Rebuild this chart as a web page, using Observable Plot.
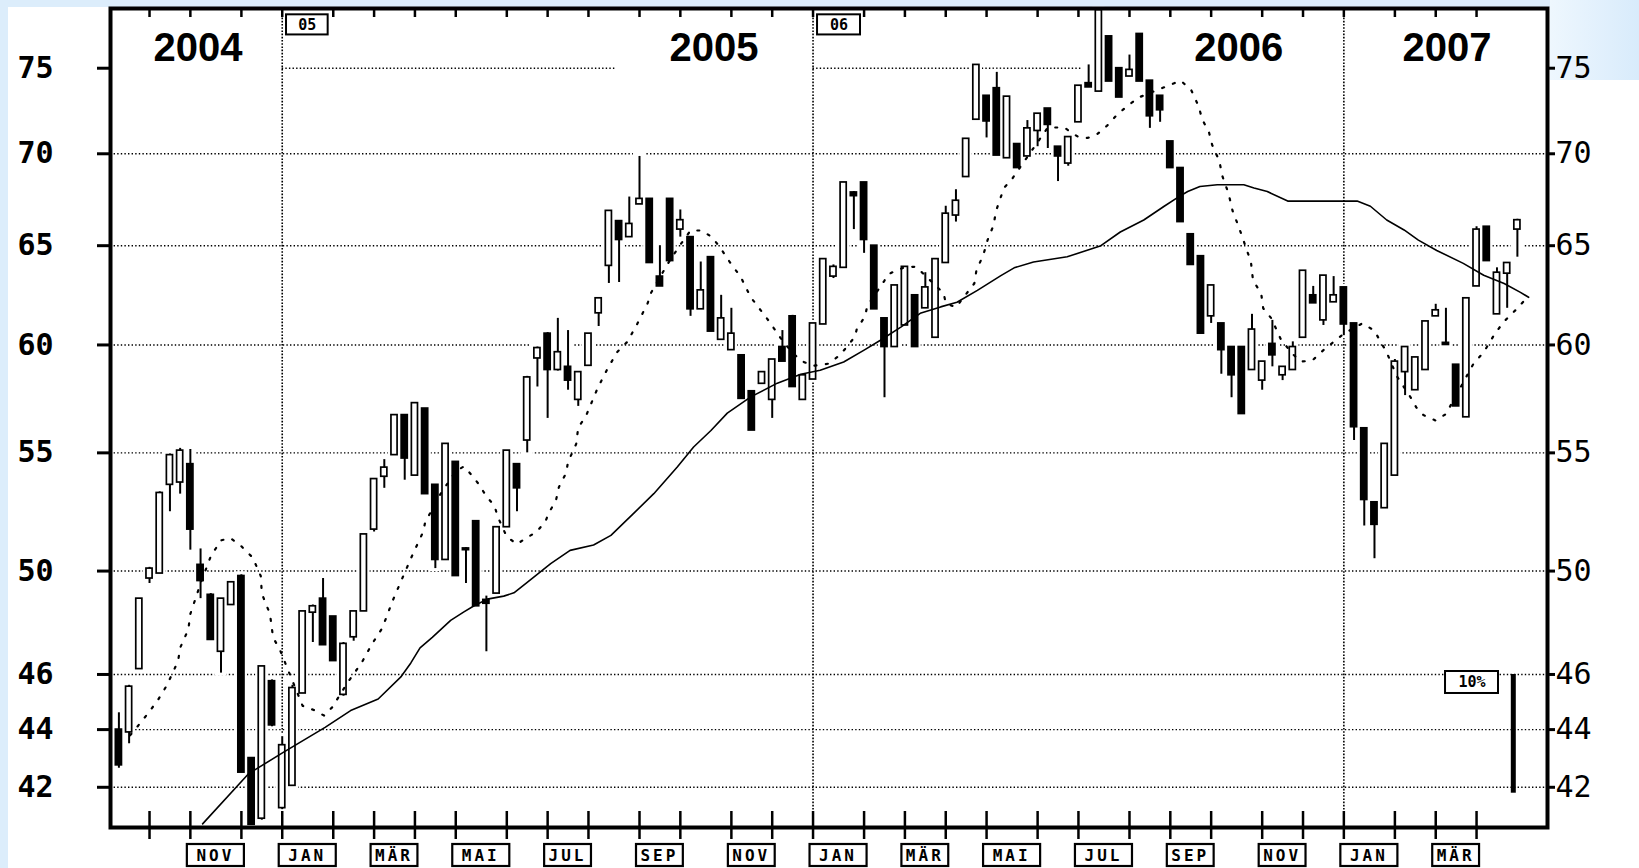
<!DOCTYPE html>
<html><head><meta charset="utf-8">
<script src="https://cdn.jsdelivr.net/npm/d3@7"></script>
<script src="https://cdn.jsdelivr.net/npm/@observablehq/plot@0.6"></script>
<style>
html,body{margin:0;padding:0;}
body{width:1639px;height:868px;overflow:hidden;background:#dcedfb;position:relative;}
#paper{position:absolute;left:8px;top:7px;width:1631px;height:861px;background:#fff;}
#corner{position:absolute;left:1550px;top:0;width:89px;height:80px;background:linear-gradient(90deg,#eef7fe,#d8ebfb);}
#chart{position:absolute;left:0;top:0;}
</style></head><body><div id="paper"></div><div id="corner"></div><div id="chart"></div>
<script>
// Weekly candles, week 0 = week of 2004-09-13 (Mondays)
const open = [44.0,43.9,46.2,49.7,49.9,53.6,53.7,54.5,50.25,49.05,46.85,48.65,49.8,43.0,40.95,45.75,41.3,42.05,45.3,48.35,
48.9,48.2,45.25,47.4,48.4,51.7,53.95,54.9,56.7,54.0,57.0,53.6,50.45,54.6,50.92,52.05,48.85,49.1,51.8,54.5,
55.55,59.35,60.55,58.8,58.95,57.4,59.0,61.55,63.95,66.3,65.45,67.2,67.5,63.4,67.5,65.85,65.45,61.75,64.4,60.25,
59.75,59.5,57.8,58.15,57.4,59.9,61.4,57.4,58.35,61.0,63.4,63.85,67.85,68.4,65.0,61.3,59.9,60.95,62.45,61.8,
60.35,64.1,66.6,68.7,71.95,73.35,73.8,69.75,70.55,69.85,71.3,72.6,70.4,69.45,71.8,74.1,73.6,76.95,75.0,74.5,
77.1,74.25,73.35,70.7,69.2,65.6,64.45,61.4,61.05,59.9,59.9,58.8,58.3,60.05,58.55,58.8,60.35,62.45,61.2,62.1,
62.85,61.05,56.1,52.85,52.6,54.0,58.7,57.85,58.8,61.4,60.1,59.05,56.6,62.9,66.0,61.5,63.55,65.85];
const high = [44.6,45.6,48.9,50.15,53.3,54.95,55.2,55.15,50.9,49.1,48.9,49.55,49.85,43.0,46.3,45.8,43.75,45.6,48.4,48.65,
49.7,48.2,47.2,48.4,51.5,53.85,54.7,56.7,56.7,57.25,57.0,53.6,55.4,54.6,50.95,52.05,49.0,51.8,55.1,54.5,
58.5,59.9,60.6,61.3,60.7,58.7,60.55,62.3,66.85,66.3,67.6,69.85,67.5,65.0,67.5,66.9,65.45,64.15,64.4,62.45,
61.8,59.5,57.8,58.7,59.3,60.7,61.45,58.55,61.05,64.3,64.0,68.4,67.9,68.4,65.0,61.3,62.95,63.9,62.45,63.6,
64.3,67.1,68.0,70.85,75.2,73.35,74.75,73.3,70.55,71.9,72.3,72.6,70.4,70.95,73.95,75.2,78.6,76.95,75.0,75.8,
77.1,74.25,73.35,70.7,69.2,65.6,64.45,62.95,61.05,59.9,59.9,61.5,59.2,61.2,58.95,60.15,63.7,62.9,63.45,63.4,
62.85,61.05,56.1,52.85,55.4,59.3,59.9,59.4,61.15,62.0,61.8,59.05,62.3,66.0,66.0,63.85,64.1,66.4];
const low = [42.65,43.5,46.2,49.5,49.9,52.45,53.2,50.85,48.9,47.3,46.05,48.65,42.5,40.75,40.9,44.1,41.25,42.05,45.3,47.2,
47.1,46.5,45.2,47.25,48.4,51.6,53.45,54.9,53.8,54.0,53.2,50.1,50.45,49.8,49.5,48.6,46.85,49.1,51.8,52.45,
55.0,58.0,56.55,58.75,57.85,57.1,59.0,60.9,63.05,63.1,65.45,67.2,64.1,62.9,64.2,65.45,61.4,61.75,60.65,60.25,
59.75,57.45,56.0,58.15,56.55,59.2,58.0,57.4,58.35,61.0,63.3,63.85,65.85,64.6,61.75,57.5,59.9,60.95,59.9,61.8,
60.35,64.1,66.25,68.7,71.95,70.9,69.9,69.75,69.2,69.85,70.4,70.3,68.45,69.3,71.8,73.85,73.6,74.2,73.25,74.5,
74.2,71.45,71.8,69.2,66.25,64.0,60.55,61.05,58.6,57.5,56.75,58.8,57.85,58.95,58.3,58.8,60.35,62.05,60.95,62.1,
60.45,55.55,51.85,50.5,52.6,54.0,57.6,57.85,58.8,61.4,60.0,57.1,56.6,62.9,64.2,61.5,61.8,64.4];
const close = [42.75,45.55,48.9,50.1,53.25,54.9,55.1,51.7,49.6,47.3,48.9,49.55,42.5,40.75,46.3,44.15,43.45,45.5,48.4,48.6,
47.1,46.5,47.15,48.4,51.5,53.85,54.35,56.7,54.75,57.25,53.2,50.45,55.4,49.8,50.85,48.6,48.7,51.8,55.1,53.45,
58.45,59.85,58.8,59.65,58.3,58.7,60.55,62.3,66.85,65.3,66.15,67.5,64.1,62.9,64.2,66.35,61.75,62.7,60.65,61.3,
60.55,57.45,56.0,58.7,59.3,59.2,58.0,58.55,61.05,64.3,63.9,68.4,67.65,65.3,61.75,59.9,62.95,63.9,59.9,62.85,
64.3,66.7,67.4,70.85,75.2,71.85,69.9,73.3,69.2,71.45,72.3,71.65,69.85,70.95,73.95,73.85,78.6,74.2,73.25,74.9,
74.2,72.15,72.5,69.2,66.25,64.0,60.55,62.95,59.75,58.55,56.75,60.75,59.2,59.5,58.95,59.9,63.7,62.05,63.45,62.45,
61.0,56.15,52.95,51.9,55.4,59.2,59.9,59.4,61.15,61.7,60.0,57.1,62.3,65.85,64.2,63.6,64.1,66.35];

// Long moving average (solid): week position and value
const maLongWeek = [8.2,12.7,16.1,20.2,22.7,25.4,27.6,28.6,29.5,30.7,32.5,33.8,34.8,36.1,37.7,38.7,40.0,42.3,44.2,46.5,
48.2,50.4,52.4,54.7,56.3,58.0,59.6,61.9,64.5,66.8,68.7,71.0,73.0,74.6,76.6,78.5,80.5,82.1,84.1,86.4,
87.7,89.6,92.9,96.2,98.1,100.4,102.4,103.7,104.7,105.9,107.6,110.2,111.2,112.5,114.5,121.3,122.6,124.2,125.9,127.3,
129.1,131.7,133.7,135.7,137.3,138.1];
const maLongValue = [40.78,42.46,43.2,44.08,44.68,45.1,45.9,46.43,47.0,47.4,48.05,48.38,48.62,48.88,49.0,49.13,49.55,50.3,50.84,51.06,
51.46,52.37,53.22,54.38,55.26,56.0,56.79,57.54,58.18,58.6,58.79,59.18,59.75,60.23,60.87,61.55,61.87,62.1,62.7,63.45,
63.85,64.15,64.42,65.0,65.72,66.36,67.1,67.57,67.9,68.18,68.27,68.27,68.1,67.9,67.38,67.38,67.1,66.36,65.83,65.29,
64.75,64.08,63.47,63.05,62.6,62.35];

// Short moving average (dotted)
const maShortWeek = [1.1,1.8,2.9,3.8,4.7,5.8,6.0,6.8,7.0,8.0,9.0,10.0,10.9,11.9,13.1,13.9,14.0,14.8,15.1,15.8,
16.8,18.0,19.1,20.1,20.9,22.4,23.8,24.8,25.8,26.8,27.75,28.7,29.8,30.0,31.5,33.0,33.8,34.6,35.3,36.0,
36.8,37.1,38.0,39.0,39.9,40.9,41.8,42.1,42.8,43.1,43.8,44.0,44.8,45.0,45.7,46.9,47.8,48.8,49.8,50.8,
51.8,52.1,53.7,54.8,56.0,57.1,58.1,58.9,59.9,60.9,61.9,63.1,63.7,64.8,66.0,67.0,68.0,69.5,70.6,71.3,
72.1,72.3,73.1,73.3,75.0,75.3,76.1,77.1,78.1,78.5,80.8,81.0,82.0,83.8,84.0,84.7,85.1,85.7,85.9,86.7,
87.5,91.0,92.6,94.0,94.9,95.8,96.8,97.8,98.9,99.9,104.0,105.0,105.8,106.1,106.8,107.1,107.8,108.1,108.7,109.1,
109.7,110.9,111.1,111.9,112.1,112.9,113.8,114.9,115.8,116.9,118.0,119.0,120.0,121.8,123.0,123.7,124.1,125.2,126.7,127.1,
127.8,129.0,130.0,132.7,133.7,134.8,135.7,136.8,137.7,138.1];
const maShortValue = [43.8,44.1,44.6,45.05,45.6,46.5,47.0,47.7,48.3,49.5,50.6,51.25,51.35,51.05,50.55,49.8,49.1,48.3,47.4,46.9,
45.95,44.85,44.7,44.5,44.8,45.7,46.45,47.15,47.75,48.8,49.7,50.6,51.6,52.0,53.2,54.2,54.4,54.0,53.6,53.1,
52.7,52.25,51.4,51.1,51.35,51.6,52.05,52.4,52.9,53.5,54.1,54.6,55.4,56.15,56.6,57.95,58.8,59.65,60.15,61.05,
62.05,62.55,64.0,64.9,65.8,65.8,65.45,64.9,64.1,63.4,62.35,61.55,61.15,60.35,59.6,59.2,59.0,59.1,59.5,59.9,
60.4,60.8,61.4,61.9,63.2,63.5,63.7,63.9,63.9,63.7,62.55,62.05,61.85,63.05,63.7,64.55,65.3,66.1,66.8,68.1,
68.6,71.5,71.5,70.95,70.9,71.1,71.6,72.25,72.8,73.25,74.25,73.75,72.7,72.0,71.2,70.5,69.6,68.75,67.8,66.85,
66.0,64.15,63.2,62.55,61.8,61.3,60.3,59.6,59.2,59.25,59.75,60.15,60.55,61.05,60.7,60.05,59.75,58.5,57.4,57.05,
56.7,56.45,56.75,59.1,59.65,60.55,61.15,61.7,62.2,62.37];

// Axis ticks and labels
const yTicks = [42, 44, 46, 50, 55, 60, 65, 70, 75];
const gridLevels = [42, 44, 46, 50, 55, 60, 65, 70];
const grid75Spans = [{from: 16, to: 48.7}, {from: 68, to: 94.9}];
const yearStartWeeks = [16, 68, 120];
const monthStartWeeks = [3,7,12,16,21,25,29,33,38,42,46,51,55,60,64,68,73,77,81,85,90,94,99,103,107,112,116,120,125,129,133];
const monthNames = ["NOV","JAN","MÄR","MAI","JUL","SEP","NOV","JAN","MÄR","MAI","JUL","SEP","NOV","JAN","MÄR"];
const monthFrom = [7,16,25,33,42,51,60,68,77,85,94,103,112,120,129];
const monthTo = [12,21,29,38,46,55,64,73,81,90,99,107,116,125,133];
const yearNames = ["2004","2005","2006","2007"];
const yearLabelWeek = [7.75, 58.3, 109.7, 130.1];
const yearTags = ["05","06"];
const yearTagFrom = [16.42, 68.44];
const yearTagTo = [20.5, 72.65];
const scaleBar = {week: 136.6, from: 41.8, to: 46, label: "10%", boxFrom: 129.96, boxTo: 135.15};

const W = 1639, H = 868, ML = 110, MR = 92, MT = 8, MB = 41;
const candles = open.map((o, i) => ({i, o, h: high[i], l: low[i], c: close[i], up: close[i] >= o}));
const longMA = maLongWeek.map((w, k) => ({w, v: maLongValue[k]}));
const shortMA = maShortWeek.map((w, k) => ({w, v: maShortValue[k]}));
const years = yearNames.map((t, k) => ({t, w: yearLabelWeek[k]}));
const tags = yearTags.map((t, k) => ({t, a: yearTagFrom[k], b: yearTagTo[k]}));
const mono = "DejaVu Sans Mono, monospace";
const dotted = {stroke: "#000", strokeWidth: 1.4, strokeDasharray: "1.4,2.2"};

const chart = Plot.plot({
  width: W, height: H,
  marginLeft: ML, marginRight: MR, marginTop: MT, marginBottom: MB,
  style: {background: "transparent", overflow: "visible"},
  x: {type: "linear", domain: [-0.823, 139.95]},
  y: {type: "log", domain: [40.66, 78.7]},
  marks: [
    Plot.frame({fill: "white", stroke: "none"}),
    Plot.ruleY(gridLevels, dotted),
    Plot.ruleY(grid75Spans, {y: () => 75, x1: "from", x2: "to", ...dotted}),
    Plot.ruleX(yearStartWeeks, {stroke: "#000", strokeWidth: 1.6, strokeDasharray: "1.6,1.6"}),
    // white halo around candles
    Plot.rect(candles, {x1: d => d.i - 0.6, x2: d => d.i + 0.6, y1: "l", y2: "h", fill: "white", insetTop: -3, insetBottom: -3}),
    Plot.ruleX(candles, {x: "i", y1: "l", y2: "h", stroke: "#000", strokeWidth: 2}),
    Plot.rect(candles.filter(d => d.up), {x1: d => d.i - 0.3, x2: d => d.i + 0.3, y1: "o", y2: "c", fill: "white", stroke: "#000", strokeWidth: 1.7}),
    Plot.rect(candles.filter(d => !d.up), {x1: d => d.i - 0.3, x2: d => d.i + 0.3, y1: "o", y2: "c", fill: "#000", stroke: "#000", strokeWidth: 1.7}),
    Plot.line(longMA, {x: "w", y: "v", stroke: "#000", strokeWidth: 1.6}),
    Plot.line(shortMA, {x: "w", y: "v", stroke: "#000", strokeWidth: 2.2, strokeDasharray: "2,9.5"}),
    // year labels
    Plot.text(years, {x: "w", text: "t", frameAnchor: "top", lineAnchor: "middle", dy: 39.5, fontSize: 40, fontWeight: "bold", fontFamily: "Liberation Sans, Arial, sans-serif", fill: "#000"}),
    // "05" "06" tags
    Plot.rect(tags, {x1: "a", x2: "b", y1: () => 77.04, y2: () => 78.3, fill: "white", stroke: "#000", strokeWidth: 2}),
    Plot.text(tags, {x: d => (d.a + d.b) / 2, y: () => 77.66, text: "t", fontSize: 15, fontFamily: mono, fontWeight: "bold", fill: "#000", letterSpacing: 3}),
    // 10% scale bar
    Plot.ruleX([scaleBar], {x: "week", y1: "from", y2: "to", stroke: "#000", strokeWidth: 5}),
    Plot.rect([scaleBar], {x1: "boxFrom", x2: "boxTo", y1: () => 45.3, y2: () => 46.11, fill: "white", stroke: "#000", strokeWidth: 2}),
    Plot.text([scaleBar], {x: d => (d.boxFrom + d.boxTo) / 2, y: () => 45.7, text: "label", fontSize: 15, fontFamily: mono, fontWeight: "bold", fill: "#000"}),
    // inner ticks
    Plot.ruleX(monthStartWeeks, {stroke: "#000", strokeWidth: 2.5, insetTop: 803}),
    Plot.ruleX(monthStartWeeks, {stroke: "#000", strokeWidth: 2.5, insetBottom: 810}),
    Plot.frame({stroke: "#000", strokeWidth: 4}),
    Plot.axisY(yTicks, {anchor: "left", tickSize: 13, tickPadding: 44, strokeWidth: 3, fontSize: 30, fontWeight: "bold", fontFamily: mono, tickFormat: d => String(d), label: null, fill: "#000"}),
    Plot.axisY(yTicks, {anchor: "right", tickSize: 7, tickPadding: 1, strokeWidth: 3, fontSize: 30, fontFamily: mono, tickFormat: d => String(d), label: null, fill: "#000"}),
    Plot.axisX(monthStartWeeks, {anchor: "bottom", tickSize: 12, strokeWidth: 2.5, tickFormat: () => "", label: null})
  ]
});
document.getElementById("chart").append(chart);

// month label boxes under the axis, positioned through Plot's x scale
const xs = chart.scale("x");
const g = d3.select(chart).append("g");
monthNames.forEach((name, k) => {
  const x1 = xs.apply(monthFrom[k]) - 3, x2 = xs.apply(monthTo[k]) + 3;
  const top = H - MB + 17;
  g.append("rect").attr("x", x1).attr("y", top).attr("width", x2 - x1).attr("height", 22)
    .attr("fill", "white").attr("stroke", "#000").attr("stroke-width", 2.2);
  g.append("text").attr("x", (x1 + x2) / 2).attr("y", top + 11).attr("text-anchor", "middle")
    .attr("dominant-baseline", "central").attr("font-family", mono).attr("font-weight", "bold")
    .attr("font-size", 16).attr("letter-spacing", 3).text(name);
});
</script></body></html>
